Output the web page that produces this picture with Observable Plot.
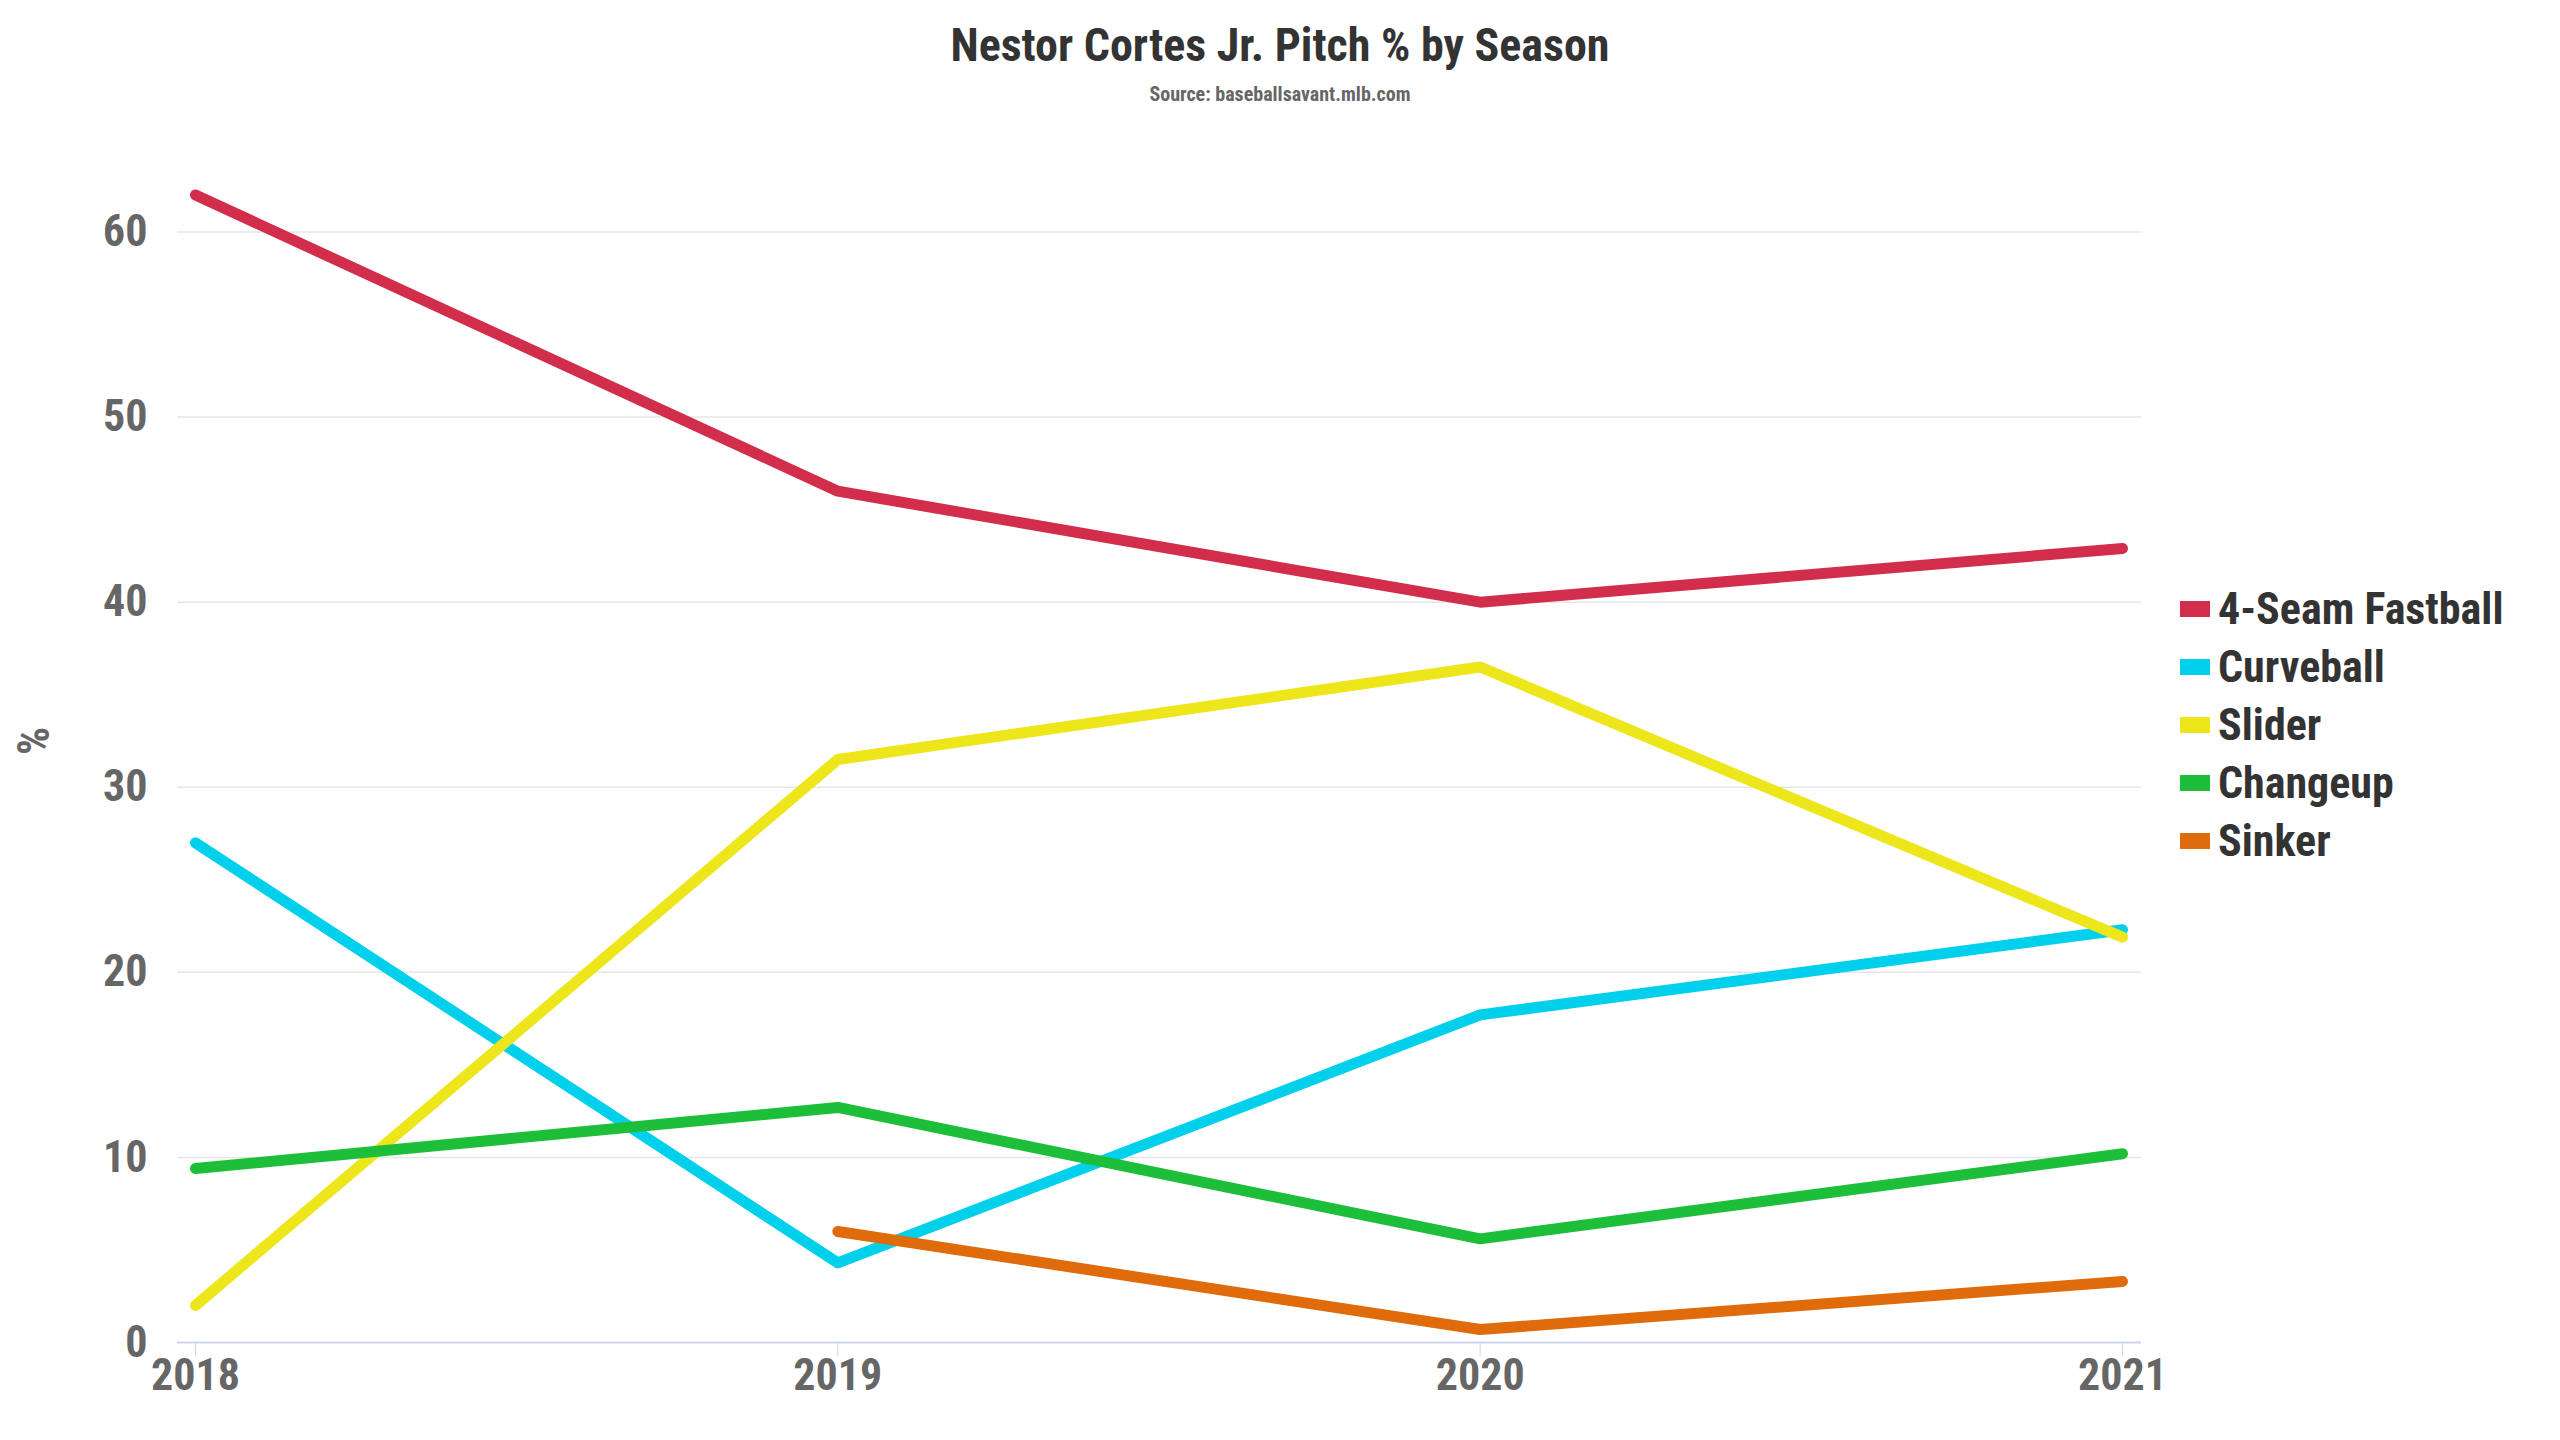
<!DOCTYPE html>
<html><head><meta charset="utf-8">
<script src="https://cdn.jsdelivr.net/npm/d3@7"></script>
<script src="https://cdn.jsdelivr.net/npm/@observablehq/plot@0.6"></script>
<style>
body{margin:0;width:2560px;height:1440px;background:#fff;position:relative;font-family:"Roboto Condensed","Liberation Sans Narrow","DejaVu Sans Condensed",sans-serif;font-weight:bold;}
#head{height:130px;text-align:center;}
#title{padding-top:18px;font-size:46px;color:#333;}
#sub{font-size:20px;color:#666;margin-top:10px;}
#legend{position:absolute;left:2180px;top:580px;}
.li{display:flex;align-items:center;font-size:44px;color:#333;height:58px;}
.sw{width:30px;height:16px;margin-right:8px;}
</style></head><body>
<div id="head"><div id="title">Nestor Cortes Jr. Pitch % by Season</div><div id="sub">Source: baseballsavant.mlb.com</div></div>
<div id="chart"></div>
<div id="legend"></div>
<script>
const seasons = [2018, 2019, 2020, 2021];
const pitches = ["4-Seam Fastball", "Curveball", "Slider", "Changeup", "Sinker"];
const colors = ["#d22e4c", "#00d0eb", "#ece61a", "#1dbf3a", "#e06b0a"];
const fastball = [62, 46, 40, 42.9];
const curveball = [27, 4.3, 17.7, 22.3];
const slider = [2, 31.5, 36.5, 21.9];
const changeup = [9.4, 12.7, 5.6, 10.2];
const sinker = [null, 6.0, 0.7, 3.3];
const yTicks = [0, 10, 20, 30, 40, 50, 60];

const series = [fastball, curveball, slider, changeup, sinker];
const rows = [];
series.forEach((vals, i) => vals.forEach((v, j) => { if (v != null) rows.push({pitch: pitches[i], season: seasons[j], value: v}); }));

const plot = Plot.plot({
  width: 2560, height: 1310,
  marginLeft: 177, marginRight: 419, marginTop: 9, marginBottom: 98,
  style: {fontFamily: "'Roboto Condensed','Liberation Sans Narrow','DejaVu Sans Condensed',sans-serif", fontWeight: "bold"},
  x: {domain: [2018, 2021], insetLeft: 18, insetRight: 19, ticks: seasons, tickFormat: d => String(d), label: null},
  y: {domain: [0, 65], ticks: yTicks, label: "%"},
  color: {domain: pitches, range: colors},
  marks: [
    Plot.gridY(yTicks.filter(d => d > 0), {stroke: "#e6e6e6", strokeOpacity: 1, strokeWidth: 1.5}),
    Plot.ruleY([0], {stroke: "#ccd6eb", strokeWidth: 2}),
    Plot.axisX({ticks: seasons, tickFormat: d => String(d), tickSize: 14, stroke: "#ccd6eb", fontSize: 44, fill: "#666", tickPadding: 2, label: null}),
    Plot.axisY({ticks: yTicks, tickSize: 0, fontSize: 44, fill: "#666", tickPadding: 30, label: "%", labelAnchor: "center", labelArrow: "none", labelOffset: 160, labelRotate: -90}),
    Plot.line(rows, {x: "season", y: "value", z: "pitch", stroke: "pitch", strokeWidth: 11, strokeLinecap: "round", strokeLinejoin: "round"})
  ]
});
document.getElementById("chart").appendChild(plot);
const lg = document.getElementById("legend");
pitches.forEach((p, i) => {
  const d = document.createElement("div"); d.className = "li";
  d.innerHTML = `<span class="sw" style="background:${colors[i]}"></span>${p}`;
  lg.appendChild(d);
});
</script></body></html>
